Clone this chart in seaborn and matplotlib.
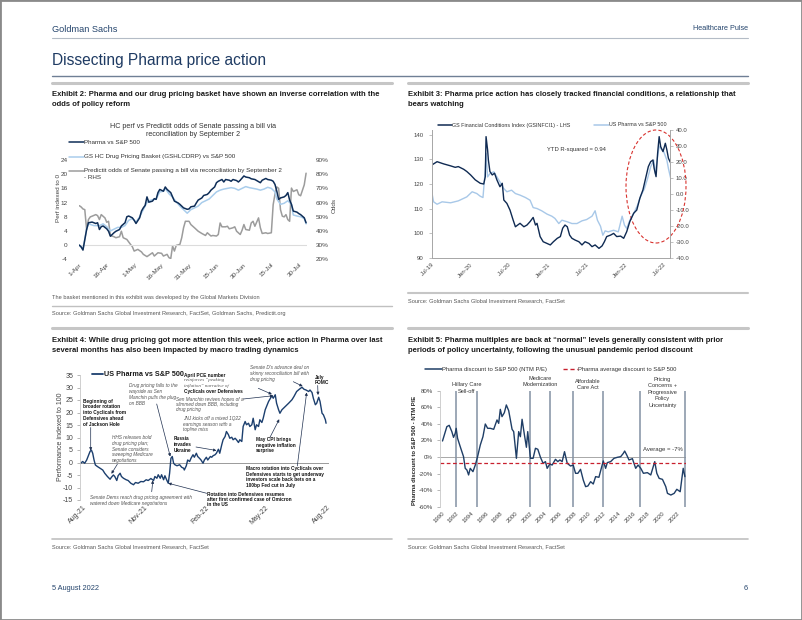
import numpy as np
import pandas as pd
import matplotlib
matplotlib.use("Agg")
import matplotlib.pyplot as plt
import matplotlib.dates as mdates
import matplotlib.transforms as mtrans
from matplotlib.lines import Line2D
from matplotlib.patches import Ellipse, Rectangle
import seaborn as sns

# ---------------- DATA ----------------
# Exhibit 2 (days since 1-Apr-2022)
ex2_pharma_day = [0, 1, 2, 4, 5, 7, 9, 10, 11, 12,
                  13, 15, 16, 17, 19, 20, 22, 23, 25, 26,
                  27, 29, 30, 31, 33, 34, 35, 36, 37, 38,
                  40, 41, 42, 43, 44, 46, 47, 48, 50, 51,
                  52, 54, 55, 56, 57, 59, 60, 61, 63, 64,
                  65, 67, 68, 70, 71, 72, 74, 75, 76, 78,
                  79, 80, 82, 83, 84, 86, 87, 88, 90, 91,
                  93, 94, 96, 97, 99, 100, 102, 103, 105, 106,
                  107, 108, 109, 110, 112, 113, 114, 115, 116, 117,
                  119, 120, 121, 123, 124]
ex2_pharma = [0, -0.5, -1.4, 4.4, 6.3, 6.5, 6.1, 6.3, 4.4, 5.2,
              5.4, 4.6, 3.9, 2.5, 3.5, 3.9, 4.4, 5.4, 6.3, 8.0,
              8.2, 7.7, 7.0, 6.1, 7.7, 9.6, 10.5, 11.2, 13.6, 12.1,
              12.4, 13.1, 12.9, 14.8, 15.7, 15.2, 16.4, 15.7, 14.8, 13.6,
              12.4, 11.9, 11.5, 11.0, 10.5, 10.1, 10.2, 10.8, 11.0, 11.9,
              12.7, 13.3, 14.0, 14.3, 14.8, 15.5, 16.4, 17.6, 18.0, 18.5,
              17.8, 18.5, 18.3, 18.0, 18.5, 18.2, 17.8, 18.3, 19.5, 19.2,
              19.0, 18.7, 18.5, 18.2, 17.6, 18.3, 18.8, 18.5, 18.3, 18.0,
              17.1, 15.2, 12.9, 13.3, 13.6, 14.0, 14.8, 12.7, 11.5, 9.6,
              9.3, 8.9, 8.6, 7.7, 6.3]
ex2_basket_day = [0, 2, 4, 5, 8, 11, 13, 15, 17, 19,
                  21, 23, 25, 27, 29, 31, 33, 35, 37, 38,
                  40, 42, 44, 46, 47, 49, 51, 53, 55, 57,
                  59, 61, 63, 65, 67, 69, 71, 73, 75, 77,
                  79, 81, 83, 85, 87, 89, 91, 93, 95, 97,
                  99, 101, 103, 105, 107, 108, 110, 112, 114, 116,
                  117, 119, 121, 123, 124]
ex2_basket = [0, -1.2, 4.5, 6.0, 5.5, 5.5, 6.0, 5.2, 4.0, 4.5,
              5.0, 5.0, 5.5, 7.0, 7.5, 6.5, 8.0, 10.0, 12.0, 12.5,
              12.8, 13.0, 15.0, 15.2, 16.0, 14.5, 13.5, 12.2, 11.0, 10.0,
              9.0, 10.0, 10.5, 11.0, 12.0, 12.5, 13.0, 14.0, 15.0, 15.5,
              15.8, 16.0, 16.2, 16.0, 15.5, 16.0, 16.5, 16.2, 16.0, 15.8,
              15.5, 15.8, 16.3, 16.0, 15.0, 13.0, 11.5, 11.8, 12.5, 11.5,
              8.5, 8.2, 8.0, 7.5, 6.0]
ex2_odds_day = [0, 1, 2, 3, 4, 5, 6, 7, 9, 10,
                11, 12, 14, 15, 16, 17, 19, 20, 22, 23,
                24, 26, 28, 29, 30, 32, 34, 35, 37, 38,
                40, 41, 43, 45, 46, 48, 49, 50, 51, 52,
                53, 55, 56, 57, 58, 60, 61, 63, 65, 67,
                69, 70, 72, 73, 75, 76, 77, 78, 80, 81,
                82, 84, 85, 86, 88, 89, 90, 91, 93, 94,
                95, 96, 98, 99, 100, 102, 103, 105, 106, 107,
                108, 109, 110, 111, 112, 113, 114, 115, 116, 117,
                119, 120, 121, 123, 124]
ex2_odds = [57.8, 56.9, 55.5, 55.0, 41.0, 48.0, 49.9, 50.4, 51.5, 50.8,
            48.0, 51.5, 49.2, 46.1, 46.8, 36.8, 35.9, 35.2, 35.9, 39.8,
            35.2, 34.0, 30.5, 28.9, 25.8, 27.0, 25.2, 23.5, 21.9, 22.8,
            24.6, 22.3, 24.6, 24.2, 22.3, 23.5, 21.2, 20.5, 29.4, 25.8,
            29.8, 30.5, 35.2, 42.2, 46.8, 46.8, 44.5, 42.2, 39.8, 38.2,
            36.8, 38.7, 36.4, 36.8, 36.4, 37.5, 45.6, 42.9, 42.9, 43.3,
            41.5, 42.2, 42.9, 39.8, 37.5, 40.5, 44.5, 41.0, 40.5, 45.6,
            46.8, 43.3, 49.2, 42.2, 38.2, 38.7, 38.2, 38.7, 58.5, 66.0,
            71.0, 70.0, 55.0, 50.4, 49.9, 51.5, 48.0, 46.8, 70.2, 67.8,
            69.0, 65.5, 64.8, 72.5, 80.7]

# Exhibit 3 (decimal years)
ex3_fci_yr = [2019.5, 2019.565, 2019.65, 2019.74, 2019.80, 2019.84, 2019.91, 2019.95, 2020.0, 2020.06,
              2020.125, 2020.17, 2020.19, 2020.2, 2020.22, 2020.23, 2020.25, 2020.28, 2020.31, 2020.34,
              2020.38, 2020.41, 2020.43, 2020.47, 2020.51, 2020.55, 2020.58, 2020.61, 2020.64, 2020.69,
              2020.73, 2020.77, 2020.81, 2020.84, 2020.86, 2020.90, 2020.94, 2020.99, 2021.03, 2021.07,
              2021.12, 2021.16, 2021.19, 2021.22, 2021.25, 2021.28, 2021.31, 2021.35, 2021.40, 2021.44,
              2021.48, 2021.53, 2021.57, 2021.61, 2021.66, 2021.70, 2021.73, 2021.76, 2021.81, 2021.85,
              2021.89, 2021.94, 2021.98, 2022.02, 2022.06, 2022.11, 2022.15, 2022.19, 2022.23, 2022.26,
              2022.30, 2022.33, 2022.36, 2022.375, 2022.40, 2022.42, 2022.44, 2022.46, 2022.49, 2022.52,
              2022.54, 2022.56, 2022.59]
ex3_fci = [127.8, 129.1, 128.2, 127.4, 126.8, 127.1, 126.0, 125.1, 123.7, 121.7,
           120.3, 120.0, 123.0, 139.3, 133.9, 129.8, 125.1, 123.7, 124.4, 121.7,
           118.9, 120.3, 113.5, 112.1, 109.4, 105.4, 102.6, 103.3, 104.0, 102.6,
           103.3, 104.7, 106.4, 103.3, 104.0, 98.6, 96.5, 95.8, 95.2, 96.5,
           97.9, 98.6, 102.0, 103.3, 102.6, 99.2, 97.9, 97.2, 96.5, 95.2,
           96.5, 95.8, 94.5, 95.2, 93.8, 94.8, 96.5, 98.6, 99.2, 99.9,
           98.6, 98.8, 97.9, 100.6, 104.7, 108.1, 109.4, 114.2, 117.6, 121.7,
           127.1, 129.1, 129.8, 126.4, 123.0, 132.5, 139.3, 135.2, 133.2, 136.6,
           133.9, 130.5, 128.5]
ex3_ph_yr = [2019.5, 2019.52, 2019.565, 2019.63, 2019.74, 2019.84, 2019.95, 2020.02, 2020.08, 2020.125,
             2020.16, 2020.19, 2020.2, 2020.22, 2020.25, 2020.30, 2020.34, 2020.38, 2020.43, 2020.47,
             2020.53, 2020.58, 2020.64, 2020.71, 2020.77, 2020.81, 2020.86, 2020.92, 2020.99, 2021.05,
             2021.09, 2021.14, 2021.18, 2021.25, 2021.31, 2021.375, 2021.44, 2021.50, 2021.57, 2021.61,
             2021.64, 2021.68, 2021.71, 2021.74, 2021.78, 2021.85, 2021.91, 2021.96, 2021.99, 2022.02,
             2022.06, 2022.11, 2022.16, 2022.20, 2022.25, 2022.29, 2022.33, 2022.37, 2022.39, 2022.42,
             2022.44, 2022.47, 2022.50, 2022.54, 2022.56, 2022.59]
ex3_ph = [0.2, -5.0, -6.5, -5.0, -5.6, -4.4, -1.9, 1.3, 0.2, -1.5,
          -2.3, 14.8, 25.3, 10.6, 12.7, 13.8, 10.6, 7.5, 3.3, 1.3,
          2.3, 0.2, -0.8, -2.3, -4.0, -8.6, -9.2, -10.6, -12.7, -14.0,
          -15.4, -18.6, -16.5, -17.5, -18.6, -18.6, -16.9, -16.1, -14.0, -10.6,
          -16.5, -20.3, -25.9, -23.2, -23.8, -22.8, -23.8, -14.0, -19.6, -21.7,
          -16.5, -12.3, -7.1, -1.5, 3.3, 9.6, 16.9, 21.1, 12.7, 23.2,
          29.9, 27.8, 26.3, 21.1, 15.9, 9.6]

# Exhibit 4 (days since 1-Aug-2021)
ex4_day = [-3, 0, 3, 6, 8, 11, 13, 15, 17, 19,
           22, 26, 30, 33, 37, 41, 43, 46, 48, 51,
           53, 56, 58, 61, 65, 68, 72, 76, 79, 83,
           87, 91, 95, 98, 102, 106, 108, 111, 113, 116,
           118, 121, 123, 126, 128, 130, 132, 134, 136, 138,
           141, 145, 148, 151, 152, 155, 157, 160, 162, 165,
           167, 170, 172, 175, 177, 180, 182, 185, 187, 191,
           193, 195, 198, 200, 203, 205, 208, 210, 213, 215,
           218, 220, 223, 225, 228, 230, 233, 235, 238, 240,
           243, 245, 248, 250, 253, 255, 258, 260, 263, 265,
           268, 270, 273, 275, 278, 280, 283, 285, 288, 290,
           293, 295, 298, 303, 308, 313, 316, 320, 324, 328,
           331, 334, 338, 340, 343, 345, 348, 350, 353, 355,
           358, 360, 363, 364]
ex4_val = [-0.3, 0.4, -0.3, 1.0, 2.4, 4.4, 5.0, 3.7, 1.0, -1.0,
           -1.6, -2.3, -3.0, -4.3, -5.6, -6.7, -5.9, -5.0, -5.6, -7.2,
           -5.3, -4.3, -5.6, -6.3, -6.9, -7.2, -8.3, -8.9, -8.0, -8.3,
           -7.6, -7.7, -6.9, -7.2, -6.4, -7.2, -5.6, -6.3, -4.9, -6.3,
           -4.9, -6.9, -5.3, -7.2, -8.3, -4.3, 1.7, 2.4, -0.3, -0.9,
           -1.3, -0.9, -1.9, -2.3, -3.0, -1.3, 1.0, 0.4, 1.7, 3.1,
           2.1, 3.7, 2.4, 1.6, 1.0, -0.3, 1.0, 2.1, 1.0, 2.4,
           2.1, 2.7, 3.1, 3.7, 5.3, 3.7, 7.1, 9.1, 10.4, 12.4,
           11.1, 9.7, 10.1, 9.1, 9.7, 9.1, 8.0, 9.1, 8.4, 14.4,
           16.4, 15.1, 15.7, 14.4, 15.1, 17.7, 13.1, 15.1, 14.4, 17.1,
           16.0, 17.7, 21.1, 22.4, 24.4, 25.3, 26.7, 25.7, 27.1, 23.7,
           21.1, 19.7, 21.1, 22.4, 23.7, 25.1, 26.4, 28.4, 29.3, 30.1,
           29.3, 29.0, 28.4, 29.0, 28.0, 25.7, 23.1, 23.7, 26.1, 24.4,
           19.7, 19.1, 17.1, 15.7]

# Exhibit 5 (decimal years, %)
ex5_yr = [1990.09, 1990.68, 1991.0, 1991.36, 1991.59, 1991.82, 1991.95, 1992.14, 1992.5, 1992.95,
          1993.18, 1993.41, 1993.64, 1993.86, 1994.23, 1994.55, 1994.86, 1995.23, 1995.59, 1995.91,
          1996.23, 1996.59, 1997.05, 1997.5, 1997.73, 1997.95, 1998.18, 1998.5, 1998.77, 1999.09,
          1999.32, 1999.55, 1999.77, 2000.14, 2000.45, 2000.68, 2000.91, 2001.23, 2001.5, 2001.68,
          2002.05, 2002.41, 2002.73, 2003.05, 2003.41, 2003.77, 2004.09, 2004.32, 2004.68, 2005.0,
          2005.45, 2005.77, 2006.05, 2006.36, 2006.68, 2007.05, 2007.5, 2007.86, 2008.18, 2008.5,
          2008.86, 2009.23, 2009.55, 2009.86, 2010.23, 2010.59, 2010.91, 2011.36, 2011.68, 2011.95,
          2012.27, 2012.5, 2012.95, 2013.41, 2013.86, 2014.32, 2014.68, 2014.86, 2015.14, 2015.45,
          2015.91, 2016.36, 2016.68, 2017.05, 2017.41, 2017.95, 2018.41, 2018.95, 2019.23, 2019.55,
          2020.0, 2020.45, 2020.68, 2021.14, 2021.59, 2021.95, 2022.41, 2022.64, 2022.82, 2023.05]
ex5_val = [19.3, 36.6, 38.2, 30.6, 23.7, 28.6, 34.6, 22.5, 12.5, 0.4,
           -13.7, -15.7, -21.7, -13.7, -17.7, -9.7, 0.4, 14.5, 24.5, 39.8,
           34.6, 34.6, 33.4, 44.7, 40.6, 57.5, 48.7, 53.5, 62.8, 55.9,
           44.7, 33.4, 30.6, -1.6, 30.6, 24.5, 45.5, 26.6, 11.7, 30.6,
           -1.6, -1.6, 10.5, 9.3, -0.4, -7.6, -5.6, -13.7, -8.5, -9.7,
           -2.8, -5.6, -3.6, -5.6, 6.4, -7.6, -10.9, -9.7, -19.7, -19.7,
           -14.9, -27.8, -35.8, -35.0, -29.8, -32.6, -23.7, -24.5, -13.7, -4.8,
           -13.7, -6.8, -5.6, -1.6, -0.4, 0.4, 4.4, 7.2, 2.4, -3.6,
           -2.0, -13.7, -9.7, -13.7, -19.7, -18.9, -21.7, -5.6, -19.7, -25.8,
           -27.0, -35.8, -43.9, -45.9, -43.9, -39.0, -41.9, -25.8, -13.7, -23.7]
ex5_avg = -7
ex5_ep_start = [1991.95, 2002.05, 2007.86, 2016.95]
ex5_ep_end = [1994.77, 2004.77, 2011.9, 2023.05]
ex5_ep_labels = [["Hillary Care", "Sell-off"], ["Medicare", "Modernization"],
                 ["Affordable", "Care Act"],
                 ["Pricing", "Concerns +", "Progressive", "Policy", "Uncertainty"]]

# ---------------- SETUP ----------------
sns.set_theme(style="white")
ARIAL = ["Liberation Sans", "DejaVu Sans"]
plt.rcParams["font.family"] = ARIAL
plt.rcParams["axes.unicode_minus"] = False

W, H = 802, 620
fig = plt.figure(figsize=(W / 100, H / 100), dpi=100)
fig.patch.set_facecolor("white")


def fx(x):
    return x / W


def fy(y):
    return 1 - y / H


def box(x0, y0, x1, y1):
    return [x0 / W, 1 - y1 / H, (x1 - x0) / W, (y1 - y0) / H]


def hline(y, x0, x1, color, lw):
    fig.add_artist(Line2D([fx(x0), fx(x1)], [fy(y), fy(y)], color=color, lw=lw,
                          transform=fig.transFigure))


def txt(x, y, s, **kw):
    kw.setdefault("va", "center")
    return fig.text(fx(x), fy(y), s, **kw)


def lines_at(x, y0, dy, lines, **kw):
    for i, s in enumerate(lines):
        txt(x, y0 + i * dy, s, **kw)


def rot_labels(ax):
    for lab in ax.get_xticklabels():
        lab.set_rotation(45)
        lab.set_ha("right")
        lab.set_rotation_mode("anchor")


NAVY_T = "#24446c"
fig.add_artist(Rectangle((0, 0), 1, 1, transform=fig.transFigure, fill=False,
                         edgecolor="#8a8a8a", lw=2))

# Header
txt(52, 29, "Goldman Sachs", fontsize=6.6, color=NAVY_T)
txt(748, 29, "Healthcare Pulse", fontsize=5.2, color=NAVY_T, ha="right")
hline(37.5, 52, 748, "#b4bcc6", 0.8)
txt(52, 60, "Dissecting Pharma price action", fontsize=11.2, color="#1f3b63")
hline(75.5, 52, 748, "#6f7f95", 1.0)
for (a, b) in [(52, 392), (408, 748)]:
    hline(83, a, b, "#c6c6c6", 2.2)
    hline(328.3, a, b, "#c6c6c6", 2.2)
    hline(539, a, b, "#c0c0c0", 1.2)
hline(306, 52, 392, "#c0c0c0", 1.0)
hline(292.7, 408, 748, "#c6c6c6", 1.5)

ET = dict(fontsize=5.5, weight="bold", color="#1a1a1a")
lines_at(52, 94.3, 10.3, ["Exhibit 2: Pharma and our drug pricing basket have shown an inverse correlation with the",
                          "odds of policy reform"], **ET)
lines_at(408, 94.3, 10.3, ["Exhibit 3: Pharma price action has closely tracked financial conditions, a relationship that",
                           "bears watching"], **ET)
lines_at(52, 340, 10.7, ["Exhibit 4: While drug pricing got more attention this week, price action in Pharma over last",
                         "several months has also been impacted by macro trading dynamics"], **ET)
lines_at(408, 340, 10.7, ["Exhibit 5: Pharma multiples are back at \u201cnormal\u201d levels generally consistent with prior",
                          "periods of policy uncertainty, following the unusual pandemic period discount"], **ET)

SRC = dict(fontsize=4.1, color="#555555")
txt(52, 297.3, "The basket mentioned in this exhibit was developed by the Global Markets Division", **SRC)
txt(52, 314, "Source: Goldman Sachs Global Investment Research, FactSet, Goldman Sachs, Predictit.org", **SRC)
txt(408, 300.7, "Source: Goldman Sachs Global Investment Research, FactSet", **SRC)
txt(52, 546.7, "Source: Goldman Sachs Global Investment Research, FactSet", **SRC)
txt(408, 546.7, "Source: Goldman Sachs Global Investment Research, FactSet", **SRC)
txt(52, 588.5, "5 August 2022", fontsize=5.3, color=NAVY_T)
txt(748, 588.5, "6", fontsize=5.3, color=NAVY_T, ha="right")

# ---------------- EXHIBIT 2 ----------------
BASE2 = pd.Timestamp("2022-04-01")
d_p = BASE2 + pd.to_timedelta(ex2_pharma_day, unit="D")
d_b = BASE2 + pd.to_timedelta(ex2_basket_day, unit="D")
d_o = BASE2 + pd.to_timedelta(ex2_odds_day, unit="D")

C_NAVY2, C_LB2, C_GR2 = "#0e2d57", "#a9cdec", "#9c9c9c"
ax2 = fig.add_axes(box(79.3, 160, 307, 259.3))
ax2r = ax2.twinx()
sns.lineplot(x=d_o, y=ex2_odds, ax=ax2r, color=C_GR2, lw=1.1)
sns.lineplot(x=d_b, y=ex2_basket, ax=ax2, color=C_LB2, lw=1.1)
sns.lineplot(x=d_p, y=ex2_pharma, ax=ax2, color=C_NAVY2, lw=1.1)
ax2.set_zorder(ax2r.get_zorder() + 1)
ax2.patch.set_visible(False)
ax2.axhline(0, color="#dcdcdc", lw=0.8, zorder=0)
ax2.set_xlim(mdates.date2num(BASE2), mdates.date2num(BASE2 + pd.Timedelta(days=124.5)))
ax2.set_ylim(-4, 24)
ax2.set_yticks(range(-4, 25, 4))
ax2r.set_ylim(20, 90)
ax2r.set_yticks(range(20, 91, 10))
ax2r.set_yticklabels([f"{v}%" for v in range(20, 91, 10)])
ticks2 = pd.date_range(BASE2, periods=9, freq="15D")
ax2.set_xticks(mdates.date2num(ticks2))
ax2.xaxis.set_major_formatter(mdates.DateFormatter("%-d-%b"))
for a in (ax2, ax2r):
    for s in a.spines.values():
        s.set_visible(False)
    a.set_xlabel("")
    a.set_ylabel("")
ax2.tick_params(axis="y", length=0, pad=8.5, labelsize=4.6, labelcolor="#444444")
ax2r.tick_params(axis="y", length=0, pad=6, labelsize=4.6, labelcolor="#444444")
ax2.tick_params(axis="x", length=0, pad=2, labelsize=4.6, labelcolor="#444444")
rot_labels(ax2)
txt(58.3, 198, "Perf indexed to 0", fontsize=4.6, color="#444444", rotation=90, ha="center")
txt(334.5, 205, "Odds", fontsize=4.6, color="#444444", rotation=90, ha="center")
txt(193.3, 126, "HC perf vs Predictit odds of Senate passing a bill via", fontsize=5.1,
    color="#333333", ha="center")
txt(193.3, 135, "reconciliation by September 2", fontsize=5.1, color="#333333", ha="center")
LG2 = dict(fontsize=4.5, color="#333333")
for (yy, col, lab) in [(142.3, C_NAVY2, "Pharma vs S&P 500"),
                       (156.7, C_LB2, "GS HC Drug Pricing Basket (GSHLCDRP) vs S&P 500"),
                       (170.7, C_GR2, "Predictit odds of Senate passing a bill via reconciliation by September 2")]:
    fig.add_artist(Line2D([fx(69), fx(83.5)], [fy(yy), fy(yy)], color=col, lw=1.1,
                          transform=fig.transFigure))
    txt(84, yy, lab, **LG2)
txt(84, 177.5, "- RHS", **LG2)

# ---------------- EXHIBIT 3 ----------------
def yr2dt(vals):
    out = []
    for v in vals:
        y = int(np.floor(v))
        out.append(pd.Timestamp(year=y, month=1, day=1) + pd.Timedelta(days=(v - y) * 365.25))
    return pd.DatetimeIndex(out)


C_NAVY3, C_LB3 = "#0f2a52", "#a8c8e8"
ax3 = fig.add_axes(box(431.7, 130, 670, 257.7))
ax3r = ax3.twinx()
sns.lineplot(x=yr2dt(ex3_ph_yr), y=ex3_ph, ax=ax3r, color=C_LB3, lw=1.0)
sns.lineplot(x=yr2dt(ex3_fci_yr), y=ex3_fci, ax=ax3, color=C_NAVY3, lw=1.0)
ax3.set_zorder(ax3r.get_zorder() + 1)
ax3.patch.set_visible(False)
ax3.set_xlim(mdates.date2num(pd.Timestamp("2019-07-01")), mdates.date2num(pd.Timestamp("2022-08-01")))
ax3.set_ylim(90, 142)
ax3.set_yticks(range(90, 141, 10))
ax3r.set_ylim(-40, 40)
ax3r.set_yticks(range(-40, 41, 10))
ax3r.set_yticklabels([f"{v:.1f}" for v in range(-40, 41, 10)])
ax3.set_xticks(mdates.date2num(pd.date_range("2019-07-01", "2022-07-01", freq="6MS")))
ax3.xaxis.set_major_formatter(mdates.DateFormatter("%b-%y"))
for a in (ax3, ax3r):
    a.spines["top"].set_visible(False)
    for sp in ("left", "right", "bottom"):
        a.spines[sp].set_color("#a8a8a8")
        a.spines[sp].set_linewidth(0.7)
    a.set_xlabel("")
    a.set_ylabel("")
ax3.tick_params(axis="y", length=2, width=0.5, color="#a8a8a8", pad=4, labelsize=4.3,
                labelcolor="#444444")
ax3r.tick_params(axis="y", length=2, width=0.5, color="#a8a8a8", pad=2, labelsize=4.3,
                 labelcolor="#444444")
ax3.tick_params(axis="x", length=0, pad=3, labelsize=4.3, labelcolor="#444444")
rot_labels(ax3)
fig.add_artist(Line2D([fx(438), fx(452)], [fy(125), fy(125)], color=C_NAVY3, lw=1.1,
                      transform=fig.transFigure))
txt(452, 125, "GS Financial Conditions Index (GSINFCI1) - LHS", fontsize=3.9, color="#333333")
fig.add_artist(Line2D([fx(594), fx(609)], [fy(125), fy(125)], color=C_LB3, lw=1.1,
                      transform=fig.transFigure))
txt(609, 125, "US Pharma vs S&P 500", fontsize=3.9, color="#333333")
txt(546.7, 150, "YTD R-squared = 0.94", fontsize=4.2, color="#333333")
fig.add_artist(Ellipse((fx(656), fy(186.5)), width=60 / W, height=113 / H,
                       transform=fig.transFigure, fill=False, edgecolor="#d8322e",
                       lw=0.8, ls=(0, (3, 2))))

# ---------------- EXHIBIT 4 ----------------
BASE4 = pd.Timestamp("2021-08-01")
d4 = BASE4 + pd.to_timedelta(ex4_day, unit="D")
C_NAVY4 = "#1c3f6e"
ax4 = fig.add_axes(box(80, 375, 329.4, 500))
sns.lineplot(x=d4, y=ex4_val, ax=ax4, color=C_NAVY4, lw=1.0)
ax4.axhline(0, color="#9a9a9a", lw=0.7, zorder=0)
ax4.set_xlim(mdates.date2num(BASE4 - pd.Timedelta(days=4)),
             mdates.date2num(BASE4 + pd.Timedelta(days=369)))
ax4.set_ylim(-15, 35)
ax4.set_yticks(range(-15, 36, 5))
ax4.set_xticks(mdates.date2num(pd.date_range("2021-08-01", "2022-08-01", freq="3MS")))
ax4.xaxis.set_major_formatter(mdates.DateFormatter("%b-%y"))
for sp in ("top", "right", "bottom"):
    ax4.spines[sp].set_visible(False)
ax4.spines["left"].set_color("#c8c8c8")
ax4.spines["left"].set_linewidth(0.6)
ax4.set_xlabel("")
ax4.set_ylabel("")
ax4.tick_params(axis="y", left=True, length=2, width=0.5, color="#9a9a9a", pad=3,
                labelsize=5, labelcolor="#444444")
ax4.tick_params(axis="x", length=0, pad=3, labelsize=5, labelcolor="#444444")
rot_labels(ax4)
txt(60, 436.7, "Performance indexed to 100", fontsize=5, color="#444444", rotation=90, ha="center")
fig.add_artist(Line2D([fx(91.7), fx(103.3)], [fy(374), fy(374)], color=C_NAVY4, lw=1.3,
                      transform=fig.transFigure))
txt(103.5, 374, "US Pharma vs S&P 500", fontsize=5.2, weight="bold", color="#1a1a1a")

BOLD = dict(fontsize=3.45, weight="bold", color="#111111")
ITAL = dict(fontsize=3.45, style="italic", color="#555555")
SERIF_I = dict(fontsize=3.6, style="italic", color="#555555", family=["Liberation Serif", "DejaVu Serif"])
lines_at(83.3, 401, 5.9, ["Beginning of", "broader rotation", "into Cyclicals from",
                          "Defensives ahead", "of Jackson Hole"], **BOLD)
lines_at(111.5, 437.7, 5.75, ["HHS releases bold", "drug pricing plan;", "Senate considers",
                              "sweeping Medicare", "negotiations"], **ITAL)
lines_at(129.3, 386, 5.7, ["Drug pricing falls to the", "wayside as Sen",
                           "Manchin pulls the plug", "on BBB"], **ITAL)
lines_at(173.3, 438.3, 5.9, ["Russia", "invades", "Ukraine"], **BOLD)
txt(184.3, 375, "April PCE number", **BOLD)
txt(184.3, 380.4, "reinforces \u201cpeaking", **SERIF_I)
txt(184.3, 385.8, "inflation\u201d narrative of", **SERIF_I)
txt(184.3, 391.2, "Cyclicals over Defensives", **BOLD)
lines_at(175.7, 399, 5.5, ["Sen Manchin revives hopes of a", "slimmed down BBB, including",
                           "drug pricing"], **ITAL)
lines_at(182.7, 418.3, 5.85, ["JNJ kicks off a mixed 1Q22", "earnings season with a",
                              "topline miss"], **ITAL)
lines_at(249.5, 367.5, 5.75, ["Senate D's advance deal on", "skinny reconciliation bill with",
                              "drug pricing"], **ITAL)
lines_at(314.5, 377, 5.7, ["July", "FOMC"], **BOLD)
lines_at(256, 439.3, 5.7, ["May CPI brings", "negative inflation", "surprise"], **BOLD)
lines_at(246, 468.3, 5.8, ["Macro rotation into Cyclicals over", "Defensives starts to get underway",
                           "investors scale back bets on a", "100bp Fed cut in July"], **BOLD)
lines_at(90, 497.3, 5.7, ["Senate Dems reach drug pricing agreement with",
                          "watered down Medicare negotiations"], **ITAL)
lines_at(206.7, 494, 5.35, ["Rotation into Defensives resumes", "after first confirmed case of Omicron",
                            "in the US"], **BOLD)

arrows4 = [((90.7, 427.5), (12, 4.8)), ((117.3, 464.3), (43, -4.5)),
           ((156.7, 404.0), (131, 2.4)), ((196.0, 447.0), (200, 4.8)),
           ((258.3, 388.3), (283, 27.3)), ((243.3, 399.0), (285, 26.7)),
           ((293.3, 381.7), (329, 30.5)), ((317.7, 385.5), (352, 27.0)),
           ((270.0, 437.3), (294, 17.3)), ((297.3, 466.0), (335, 28.0)),
           ((151.7, 491.7), (105, -7.2)), ((206.7, 493.3), (128, -8.3))]
for (sx, sy), (dd, vv) in arrows4:
    ax4.annotate("", xy=(mdates.date2num(BASE4 + pd.Timedelta(days=dd)), vv), xycoords="data",
                 xytext=(fx(sx), fy(sy)), textcoords="figure fraction",
                 arrowprops=dict(arrowstyle="-|>", color="#1f3050", lw=0.5,
                                 mutation_scale=4, shrinkA=0, shrinkB=0),
                 annotation_clip=False)

# ---------------- EXHIBIT 5 ----------------
C_NAVY5, C_RED5 = "#1f3e66", "#c8202e"
ax5 = fig.add_axes(box(440, 390.7, 686, 506.7))
sns.lineplot(x=ex5_yr, y=ex5_val, ax=ax5, color=C_NAVY5, lw=1.0)
ax5.axhline(0, color="#9a9a9a", lw=0.6, zorder=0)
ax5.axhline(ex5_avg, color=C_RED5, lw=0.9, ls=(0, (3, 2)))
for xs in ex5_ep_start + ex5_ep_end:
    ax5.axvline(xs, color="#8391a3", lw=1.1, zorder=1)
ax5.set_xlim(1989.75, 2023.2)
ax5.set_ylim(-60, 80)
ax5.set_yticks(range(-60, 81, 20))
ax5.set_yticklabels([f"{v}%" for v in range(-60, 81, 20)])
ax5.set_xticks(range(1990, 2023, 2))
for sp in ("top", "right", "bottom"):
    ax5.spines[sp].set_visible(False)
ax5.spines["left"].set_color("#c8c8c8")
ax5.spines["left"].set_linewidth(0.6)
ax5.set_xlabel("")
ax5.set_ylabel("")
ax5.tick_params(axis="y", left=True, length=2, width=0.5, color="#9a9a9a", pad=3,
                labelsize=4.4, labelcolor="#444444")
ax5.tick_params(axis="x", length=0, pad=3, labelsize=4.4, labelcolor="#444444")
rot_labels(ax5)
blend = mtrans.blended_transform_factory(ax5.transData, fig.transFigure)
ep_y0 = [384.7, 378.0, 381.3, 379.3]
for s, e, labs, y0 in zip(ex5_ep_start, ex5_ep_end, ex5_ep_labels, ep_y0):
    for i, lab in enumerate(labs):
        ax5.text((s + e) / 2, fy(y0 + i * 6.5), lab, transform=blend, ha="center",
                 va="center", fontsize=4.1, color="#333333")
txt(643.3, 449.3, "Average = -7%", fontsize=4.3, color="#333333")
txt(414, 450, "Pharma discount to S&P 500 - NTM P/E", fontsize=4.2, weight="bold",
    color="#222222", rotation=90, ha="center")
fig.add_artist(Line2D([fx(425), fx(441.7)], [fy(369), fy(369)], color=C_NAVY5, lw=1.1,
                      transform=fig.transFigure))
txt(441.7, 369, "Pharma discount to S&P 500 (NTM P/E)", fontsize=4.2, color="#333333")
fig.add_artist(Line2D([fx(563.3), fx(578.3)], [fy(369), fy(369)], color=C_RED5, lw=1.0,
                      ls=(0, (3, 2)), transform=fig.transFigure))
txt(578.5, 369, "Pharma average discount to S&P 500", fontsize=4.2, color="#333333")

fig.savefig("out.png", dpi=100, facecolor="white")
